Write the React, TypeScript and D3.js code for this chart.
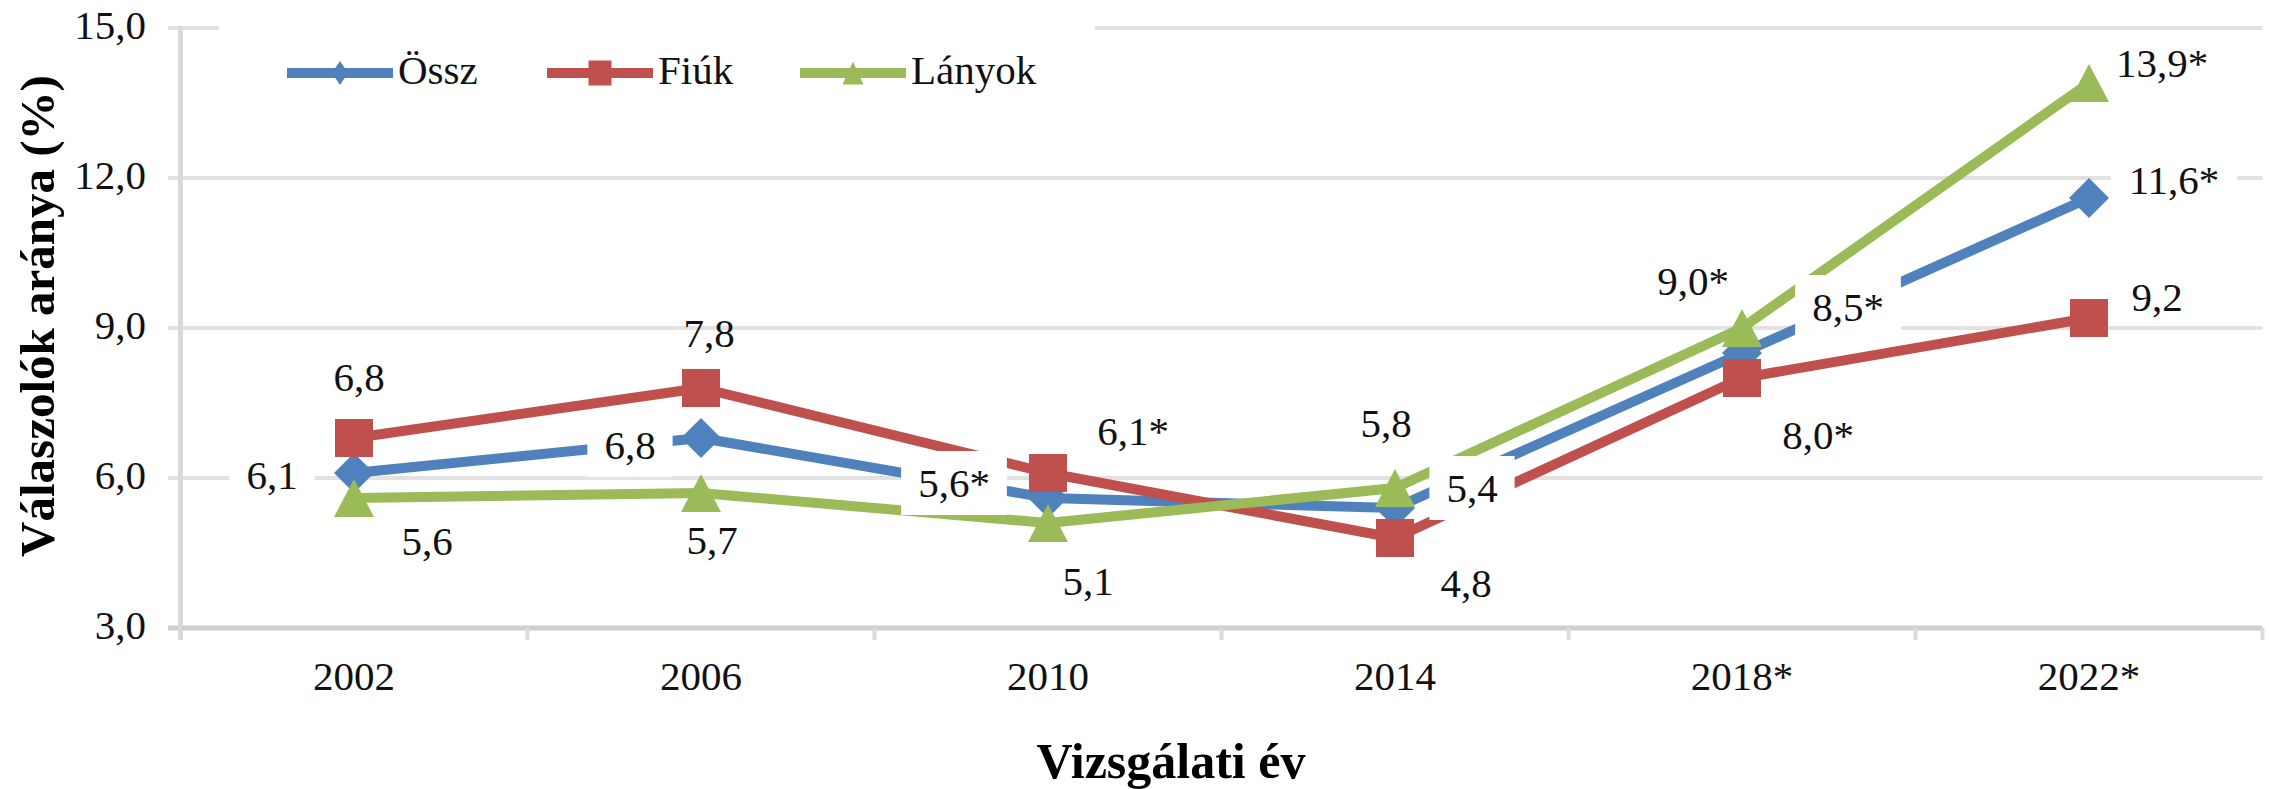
import React from "react";
import * as d3 from "d3";

const categories = ["2002", "2006", "2010", "2014", "2018*", "2022*"];
const osszValues = [6.1, 6.8, 5.6, 5.4, 8.5, 11.6];
const fiukValues = [6.8, 7.8, 6.1, 4.8, 8.0, 9.2];
const lanyokValues = [5.6, 5.7, 5.1, 5.8, 9.0, 13.9];
const osszStars = [false, false, true, false, true, true];
const fiukStars = [false, false, true, false, true, false];
const lanyokStars = [false, false, false, false, true, true];
const yTicks = [3, 6, 9, 12, 15];
const seriesNames = ["Össz", "Fiúk", "Lányok"];

// layout (label offsets from marker centre, px)
const osszLabelOffsets = [[-82, 2], [-71, 7], [-94, -15], [77, -20], [106, -46], [85, -18]];
const fiukLabelOffsets = [[5, -61], [8, -55], [85, -42], [71, 45], [76, 57], [68, -21]];
const lanyokLabelOffsets = [[73, 43], [11, 47], [40, 58], [-9, -65], [-49, -47], [73, -20]];

const W = 2269;
const H = 789;
const FONT = "'Liberation Serif', 'Times New Roman', serif";
const FS = 41;

const fmt = (v: number) => d3.format(".1f")(v).replace(".", ",");

function markerPath(shape: string, w: number, h: number) {
  const hw = w / 2, hh = h / 2;
  if (shape === "diamond") return `M0,${-hh}L${hw},0L0,${hh}L${-hw},0Z`;
  if (shape === "square") return `M${-hw},${-hh}H${hw}V${hh}H${-hw}Z`;
  return `M0,${-hh}L${hw},${hh}L${-hw},${hh}Z`;
}

export default function App() {
  const x = d3.scaleBand<string>().domain(categories).range([180.5, 2262.5]).padding(0);
  const cx = (c: string) => (x(c) as number) + x.bandwidth() / 2;
  const y = d3.scaleLinear().domain([3, 15]).range([628, 28]);

  const series = [
    { name: seriesNames[0], values: osszValues, stars: osszStars, offs: osszLabelOffsets, color: "#4F81BD", shape: "diamond", mw: 40, mh: 40, lw: 16, lh: 24, box: true },
    { name: seriesNames[1], values: fiukValues, stars: fiukStars, offs: fiukLabelOffsets, color: "#C0504D", shape: "square", mw: 38, mh: 38, lw: 23, lh: 25, box: false },
    { name: seriesNames[2], values: lanyokValues, stars: lanyokStars, offs: lanyokLabelOffsets, color: "#9BBB59", shape: "triangle", mw: 40, mh: 38, lw: 21, lh: 23, box: false },
  ];

  const line = d3
    .line<number>()
    .x((_, i) => cx(categories[i]))
    .y((d) => y(d));

  const bounds = categories.map((_, i) => 180.5 + i * x.bandwidth()).concat([2262.5]);

  const legendX = [287, 547, 800];

  return (
    <svg width={W} height={H} style={{ position: "absolute", left: 0, top: 0, background: "#fff" }} fontFamily={FONT}>
      <rect x={0} y={0} width={W} height={H} fill="#fff" />
      {/* gridlines */}
      {yTicks.filter((t) => t !== 3).map((t) => (
        <line key={t} x1={168} x2={2262.5} y1={y(t)} y2={y(t)} stroke="#e2e2e2" strokeWidth={4} />
      ))}
      {/* x axis */}
      <line x1={168} x2={2262.5} y1={y(3)} y2={y(3)} stroke="#cfcfcf" strokeWidth={5} />
      {bounds.map((b, i) => (
        <line key={i} x1={b} x2={b} y1={y(3)} y2={640} stroke="#dcdcdc" strokeWidth={4} />
      ))}
      {/* y axis */}
      <line x1={180.5} x2={180.5} y1={y(15) - 2} y2={640} stroke="#d9d9d9" strokeWidth={5} />
      {/* y tick labels */}
      {yTicks.map((t) => (
        <text key={t} x={146} y={y(t) + 11} textAnchor="end" fontSize={FS} fill="#111">
          {fmt(t)}
        </text>
      ))}
      {/* x tick labels */}
      {categories.map((c) => (
        <text key={c} x={cx(c)} y={690} textAnchor="middle" fontSize={FS} fill="#111">
          {c}
        </text>
      ))}
      {/* axis titles */}
      <text x={1171} y={778} textAnchor="middle" fontSize={50} fontWeight="bold" fill="#000">
        Vizsgálati év
      </text>
      <text
        transform={`translate(54,316) rotate(-90)`}
        textAnchor="middle"
        fontSize={49}
        fontWeight="bold"
        fill="#000"
      >
        Válaszolók aránya (%)
      </text>
      {/* legend box */}
      <rect x={219} y={14} width={876} height={110} fill="#fff" />
      {series.map((s, i) => (
        <g key={s.name}>
          <line x1={legendX[i]} x2={legendX[i] + 106} y1={73} y2={73} stroke={s.color} strokeWidth={10} />
          <path d={markerPath(s.shape, s.lw, s.lh)} transform={`translate(${legendX[i] + 53},73)`} fill={s.color} />
          <text x={legendX[i] + 111} y={84} fontSize={FS} fill="#111">
            {s.name}
          </text>
        </g>
      ))}
      {/* series */}
      {series.map((s) => (
        <g key={s.name}>
          <path d={line(s.values) as string} fill="none" stroke={s.color} strokeWidth={10} strokeLinejoin="round" />
          {s.values.map((v, i) => (
            <path
              key={i}
              d={markerPath(s.shape, s.mw, s.mh)}
              transform={`translate(${cx(categories[i])},${y(v)})`}
              fill={s.color}
            />
          ))}
        </g>
      ))}
      {/* data labels */}
      {series.map((s) => (
        <g key={s.name + "lab"}>
          {s.values.map((v, i) => {
            const label = fmt(v) + (s.stars[i] ? "*" : "");
            const lx = cx(categories[i]) + s.offs[i][0];
            const ly = y(v) + s.offs[i][1];
            const tw = FS * (0.5 * (label.replace(/[,*]/g, "").length) + 0.25 + (s.stars[i] ? 0.5 : 0));
            return (
              <g key={i}>
                {s.box && <rect x={lx - tw / 2 - 17} y={ly - 32} width={tw + 34} height={64} fill="#fff" />}
                <text x={lx} y={ly + 14} textAnchor="middle" fontSize={FS} fill="#111">
                  {label}
                </text>
              </g>
            );
          })}
        </g>
      ))}
    </svg>
  );
}
